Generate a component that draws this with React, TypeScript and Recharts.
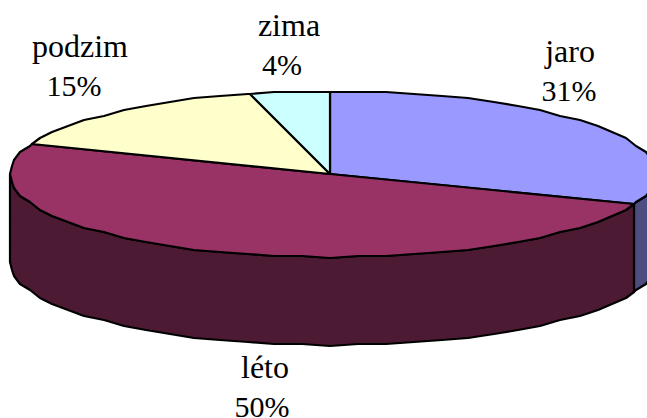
import { Pie, PieChart } from "recharts";

const seasons = ["jaro", "léto", "podzim", "zima"];
const shares = [31, 50, 15, 4];
const topColors = ["#9999ff", "#993366", "#ffffcc", "#ccffff"];
const wallColors = ["#4d4d80", "#4d1a33", "#808066", "#668080"];

const data = seasons.map((name, i) => ({ name, value: shares[i], fill: topColors[i] }));

const SQUASH = 83 / 320;
const RIGHT_STRETCH = 1.02; // perspective pushes the right side out a bit
const DEPTH = 88;
const ARC_STEP = 5;
const SNAP = 2; // the rim is slightly jagged in the original

function rimPoints(cx: number, cy: number, r: number, from: number, to: number) {
  // same angle grid for every slice so top rim and wall share their corners
  const angles = [from];
  for (let a = Math.floor(from / ARC_STEP) * ARC_STEP; a > to; a -= ARC_STEP) {
    if (a < from) angles.push(a);
  }
  angles.push(to);
  return angles.map((deg) => {
    const a = (deg * Math.PI) / 180;
    const c = Math.cos(a);
    const x = cx + r * c * (c > 0 ? RIGHT_STRETCH : 1);
    const y = cy - r * SQUASH * Math.sin(a);
    return [Math.round(x / SNAP) * SNAP, Math.round(y / SNAP) * SNAP] as [number, number];
  });
}

function toPath(pts: [number, number][]) {
  return pts.map((p, i) => `${i ? "L" : "M"}${p[0]},${p[1]}`).join(" ");
}

// Pie gives us the angles, this squashes each sector and adds its side wall
function Slice3D(props: any) {
  const { cx, cy, outerRadius, startAngle, endAngle, fill, index } = props;
  const i = index ?? seasons.indexOf(props.name);
  const wallFrom = Math.min(startAngle, 0);
  const wallTo = Math.max(endAngle, -180);
  const rim = rimPoints(cx, cy, outerRadius, startAngle, endAngle);
  let wall = null;
  if (wallFrom > wallTo) {
    const front = rimPoints(cx, cy, outerRadius, wallFrom, wallTo);
    const lower = front.map(([x, y]) => [x, y + DEPTH] as [number, number]).reverse();
    wall = (
      <path
        d={`${toPath([...front, ...lower])} Z`}
        fill={wallColors[i]}
        stroke="#000"
        strokeWidth={2.2}
        strokeLinejoin="round"
      />
    );
  }
  return (
    <g>
      {wall}
      <path
        d={`M${cx},${cy} ${toPath(rim).replace("M", "L")} Z`}
        fill={fill}
        stroke="#000"
        strokeWidth={2.2}
        strokeLinejoin="round"
      />
    </g>
  );
}

// name x, percent x, name baseline
const labelSpots: Record<string, [number, number, number]> = {
  jaro: [570, 569, 62],
  léto: [265, 262, 378],
  podzim: [80, 74, 57],
  zima: [289, 282, 36],
};

function SliceLabel(props: any) {
  const [nameX, pctX, y] = labelSpots[props.name];
  return (
    <text y={y} textAnchor="middle" fontFamily="Liberation Serif" fill="#000">
      <tspan x={nameX} fontSize={32}>{props.name}</tspan>
      <tspan x={pctX} dy={39} fontSize={30}>{props.value}%</tspan>
    </text>
  );
}

export default function App() {
  return (
    <div style={{ position: "fixed", left: 0, top: 0, width: 647, height: 418, background: "#fff" }}>
      <PieChart width={647} height={418} margin={{ top: 0, right: 0, bottom: 0, left: 0 }}>
        <Pie
          data={data}
          dataKey="value"
          nameKey="name"
          cx={330}
          cy={174}
          innerRadius={0}
          outerRadius={320}
          startAngle={90}
          endAngle={-270}
          paddingAngle={0}
          isAnimationActive={false}
          shape={Slice3D}
          label={SliceLabel}
          labelLine={false}
        />
      </PieChart>
    </div>
  );
}
